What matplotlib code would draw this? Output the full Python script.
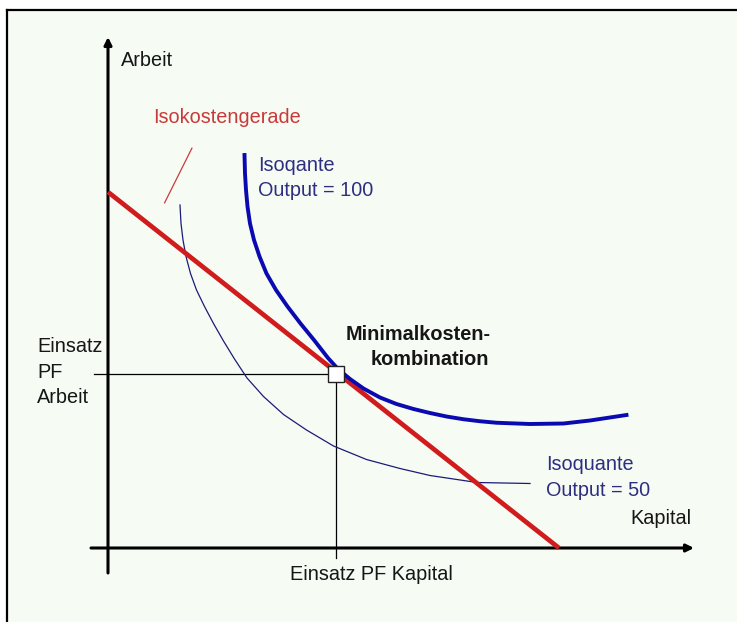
import matplotlib
matplotlib.use("Agg")
import matplotlib.pyplot as plt
from matplotlib.patches import Rectangle
from matplotlib.lines import Line2D

plt.rcParams['font.family'] = ['Liberation Sans', 'DejaVu Sans']

# ---- data (Kapital, Arbeit) in arbitrary units ----
isocost_K = [0.0, 9.02]
isocost_L = [7.12, 0.0]

q100_K = [2.73, 2.74, 2.76, 2.79, 2.84, 2.92, 3.03, 3.17, 3.36, 3.59, 3.85, 4.12, 4.40, 4.60,
          4.84, 5.11, 5.44, 5.77, 6.11, 6.44, 6.77, 7.11, 7.44, 7.77, 8.44, 9.11, 9.64, 10.37]
q100_L = [7.86, 7.49, 7.16, 6.83, 6.49, 6.16, 5.83, 5.49, 5.16, 4.83, 4.49, 4.16, 3.80, 3.58,
          3.38, 3.19, 3.01, 2.88, 2.78, 2.70, 2.63, 2.575, 2.535, 2.505, 2.48, 2.49, 2.55, 2.66]

q50_K = [1.44, 1.46, 1.50, 1.56, 1.65, 1.77, 1.93, 2.11, 2.31, 2.53, 2.78, 3.11, 3.51, 3.97,
         4.51, 5.17, 5.84, 6.44, 7.38, 8.44]
q50_L = [6.86, 6.49, 6.16, 5.83, 5.49, 5.16, 4.83, 4.49, 4.14, 3.78, 3.40, 3.03, 2.67, 2.36,
         2.04, 1.77, 1.59, 1.45, 1.31, 1.29]

opt_K = 4.56
opt_L = 3.49

BG = '#f6fbf4'
RED = '#d01c1c'
BLUE_THICK = '#0a0ab0'
BLUE_THIN = '#1c1c78'
BLUE_TEXT = '#2e2e80'
RED_TEXT = '#c83a3a'
TXT = '#161616'

fig = plt.figure(figsize=(7.37, 6.22), dpi=100)
fig.patch.set_facecolor('white')

# background panel with top/left border (cropped screenshot look)
W, H = 737.0, 622.0
fig.patches.append(Rectangle((7 / W, 0), 1 - 7 / W, 1 - 10 / H, transform=fig.transFigure,
                             facecolor=BG, edgecolor='none', zorder=-10))
fig.lines.append(Line2D([7 / W, 1], [1 - 10 / H, 1 - 10 / H], transform=fig.transFigure,
                        color='black', lw=1.6, zorder=-9))
fig.lines.append(Line2D([7 / W, 7 / W], [0, 1 - 10 / H], transform=fig.transFigure,
                        color='black', lw=1.6, zorder=-9))

ax = fig.add_axes([0, 0, 1, 1])
ax.set_zorder(5)
ax.set_xlim(-2.16, 12.58)
ax.set_ylim(-1.48, 10.96)
ax.axis('off')
ax.patch.set_alpha(0)

# axes with arrows
ax.annotate('', xy=(0, 10.22), xytext=(0, -0.5),
            arrowprops=dict(arrowstyle='-|>', lw=2.2, color='black',
                            mutation_scale=11, shrinkA=0, shrinkB=0))
ax.annotate('', xy=(11.72, 0), xytext=(-0.34, 0),
            arrowprops=dict(arrowstyle='-|>', lw=2.2, color='black',
                            mutation_scale=11, shrinkA=0, shrinkB=0))

# guide lines
ax.plot([-0.28, opt_K], [opt_L, opt_L], color='black', lw=0.9, zorder=2)
ax.plot([opt_K, opt_K], [opt_L, -0.2], color='black', lw=0.9, zorder=2)

# curves
ax.plot(q50_K, q50_L, color=BLUE_THIN, lw=0.9, zorder=3, solid_joinstyle='round')
ax.plot(isocost_K, isocost_L, color=RED, lw=3.4, zorder=4, solid_capstyle='butt')
ax.plot(q100_K, q100_L, color=BLUE_THICK, lw=2.8, zorder=5, solid_joinstyle='round')

# optimum square
ax.plot([opt_K], [opt_L], marker='s', markersize=11, markerfacecolor='white',
        markeredgecolor='#222222', markeredgewidth=1.0, zorder=6)

# pointer for isocost label
ax.annotate('', xy=(1.13, 6.9), xytext=(1.68, 8.0),
            arrowprops=dict(arrowstyle='-', lw=0.9, color=RED_TEXT,
                            shrinkA=0, shrinkB=0))

fs = 14.3
ax.text(0.26, 9.76, 'Arbeit', fontsize=fs, ha='left', va='center', color=TXT)
ax.text(0.90, 8.62, 'Isokostengerade', fontsize=fs, ha='left', va='center', color=RED_TEXT)
ax.text(3.00, 7.66, 'Isoqante', fontsize=fs, ha='left', va='center', color=BLUE_TEXT)
ax.text(3.00, 7.16, 'Output = 100', fontsize=fs, ha='left', va='center', color=BLUE_TEXT)
ax.text(7.66, 4.28, 'Minimalkosten-', fontsize=fs, ha='right', va='center',
        fontweight='bold', color=TXT)
ax.text(7.62, 3.78, 'kombination', fontsize=fs, ha='right', va='center',
        fontweight='bold', color=TXT)
ax.text(-1.42, 4.04, 'Einsatz', fontsize=fs, ha='left', va='center', color=TXT)
ax.text(-1.42, 3.52, 'PF', fontsize=fs, ha='left', va='center', color=TXT)
ax.text(-1.42, 3.02, 'Arbeit', fontsize=fs, ha='left', va='center', color=TXT)
ax.text(8.76, 1.66, 'Isoquante', fontsize=fs, ha='left', va='center', color=BLUE_TEXT)
ax.text(8.76, 1.14, 'Output = 50', fontsize=fs, ha='left', va='center', color=BLUE_TEXT)
ax.text(10.44, 0.60, 'Kapital', fontsize=fs, ha='left', va='center', color=TXT)
ax.text(3.64, -0.54, 'Einsatz PF Kapital', fontsize=fs, ha='left', va='center', color=TXT)

fig.savefig('out.png', dpi=100, facecolor=fig.get_facecolor())
